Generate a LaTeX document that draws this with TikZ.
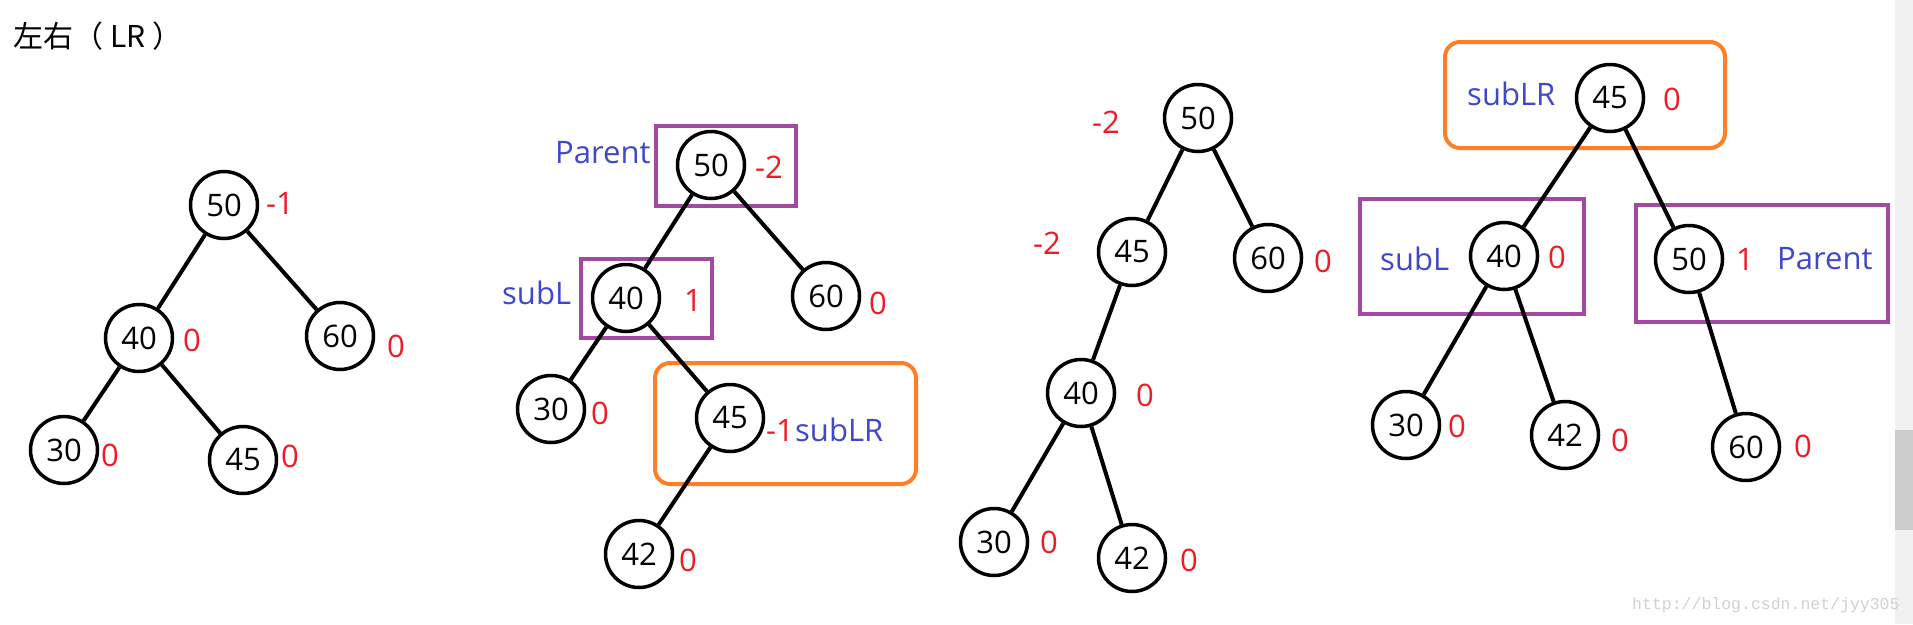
\documentclass[tikz,border=0pt]{standalone}
\usepackage{fontspec}
\setmainfont{Open Sans}
\newfontfamily\cjkfont{Noto Sans CJK SC}
\newfontfamily\wmfont{Liberation Mono}

\definecolor{bfred}{RGB}{237,28,36}
\definecolor{tagblue}{RGB}{63,72,204}
\definecolor{boxpurple}{RGB}{163,73,164}
\definecolor{boxorange}{RGB}{255,127,39}

\tikzset{
    vertex/.style={circle, draw, line width=3.5pt, minimum size=67pt, inner sep=0pt, font=\fontsize{31}{31}\selectfont},
    bf/.style={text=bfred, inner sep=0pt, font=\fontsize{31}{31}\selectfont},
    tag/.style={text=tagblue, inner sep=0pt, anchor=west, font=\fontsize{31}{31}\selectfont},
    link/.style={line width=4pt},
    pbox/.style={draw=boxpurple, line width=4pt},
    obox/.style={draw=boxorange, line width=4pt, rounded corners=15pt}
}

\begin{document}
\begin{tikzpicture}[x=1pt, y=-1pt]
        \useasboundingbox (0,0) rectangle (1913,624);
        \fill[white] (0,0) rectangle (1913,624);
        \node (title) at (13,36) [anchor=west, inner sep=0pt, font=\cjkfont\fontsize{30}{30}\selectfont] {左右（\hspace{7pt}LR\hspace{7pt}）};

        % before rotation
        \node (a50) at (224,205) [vertex] {50};
        \node (a40) at (139,338) [vertex] {40};
        \node (a60) at (340,336) [vertex] {60};
        \node (a30) at (64,450) [vertex] {30};
        \node (a45) at (243,460) [vertex] {45};
        \node (a50f) at (280,203) [bf] {-1};
        \node (a40f) at (192,340) [bf] {0};
        \node (a60f) at (396,346) [bf] {0};
        \node (a30f) at (110,455) [bf] {0};
        \node (a45f) at (290,456) [bf] {0};
        \draw[link] (a50) -- (a40);
        \draw[link] (a50) -- (a60);
        \draw[link] (a40) -- (a30);
        \draw[link] (a40) -- (a45);

        % insert 42
        \draw[pbox] (656,126) rectangle (796,206);
        \draw[pbox] (581,259) rectangle (712,338);
        \draw[obox] (655,363) rectangle (916,484);
        \node (b50) at (711,165) [vertex] {50};
        \node (b40) at (626,298) [vertex] {40};
        \node (b60) at (826,296) [vertex] {60};
        \node (b30) at (551,409) [vertex] {30};
        \node (b45) at (730,418) [vertex] {45};
        \node (b42) at (639,554) [vertex] {42};
        \node (b50f) at (769,167) [bf] {-2};
        \node (b40f) at (693,300) [bf] {1};
        \node (b60f) at (878,303) [bf] {0};
        \node (b30f) at (600,413) [bf] {0};
        \node (b45f) at (780,430) [bf] {-1};
        \node (b42f) at (688,560) [bf] {0};
        \node (b50t) at (555,153) [tag] {Parent};
        \node (b40t) at (502,293) [tag] {subL};
        \node (b45t) at (795,430) [tag] {subLR};
        \draw[link] (b50) -- (b40);
        \draw[link] (b50) -- (b60);
        \draw[link] (b40) -- (b30);
        \draw[link] (b40) -- (b45);
        \draw[link] (b45) -- (b42);

        % after left rotation
        \node (c50) at (1198,118) [vertex] {50};
        \node (c45) at (1132,252) [vertex] {45};
        \node (c60) at (1268,258) [vertex] {60};
        \node (c40) at (1081,393) [vertex] {40};
        \node (c30) at (994,542) [vertex] {30};
        \node (c42) at (1132,558) [vertex] {42};
        \node (c50f) at (1106,122) [bf] {-2};
        \node (c45f) at (1047,243) [bf] {-2};
        \node (c60f) at (1323,261) [bf] {0};
        \node (c40f) at (1145,395) [bf] {0};
        \node (c30f) at (1049,542) [bf] {0};
        \node (c42f) at (1189,560) [bf] {0};
        \draw[link] (c50) -- (c45);
        \draw[link] (c50) -- (c60);
        \draw[link] (c45) -- (c40);
        \draw[link] (c40) -- (c30);
        \draw[link] (c40) -- (c42);

        % after right rotation
        \draw[obox] (1445,42) rectangle (1725,148);
        \draw[pbox] (1360,199) rectangle (1584,314);
        \draw[pbox] (1636,205) rectangle (1888,322);
        \node (d45) at (1610,98) [vertex] {45};
        \node (d40) at (1504,256) [vertex] {40};
        \node (d50) at (1689,259) [vertex] {50};
        \node (d30) at (1406,425) [vertex] {30};
        \node (d42) at (1565,435) [vertex] {42};
        \node (d60) at (1746,447) [vertex] {60};
        \node (d45f) at (1672,99) [bf] {0};
        \node (d40f) at (1557,257) [bf] {0};
        \node (d50f) at (1745,259) [bf] {1};
        \node (d30f) at (1457,426) [bf] {0};
        \node (d42f) at (1620,440) [bf] {0};
        \node (d60f) at (1803,446) [bf] {0};
        \node (d45t) at (1467,94) [tag] {subLR};
        \node (d40t) at (1380,259) [tag] {subL};
        \node (d50t) at (1777,259) [tag] {Parent};
        \draw[link] (d45) -- (d40);
        \draw[link] (d45) -- (d50);
        \draw[link] (d40) -- (d30);
        \draw[link] (d40) -- (d42);
        \draw[link] (d50) -- (d60);

        \fill[black!6] (1895,0) rectangle (1913,624);
        \fill[black!20] (1895,430) rectangle (1913,530);
        \node (mark) at (1632,605) [anchor=west, inner sep=0pt, text=black!18, font=\wmfont\fontsize{16.5}{16.5}\selectfont] {http://blog.csdn.net/jyy305};
    \end{tikzpicture}
\end{document}
